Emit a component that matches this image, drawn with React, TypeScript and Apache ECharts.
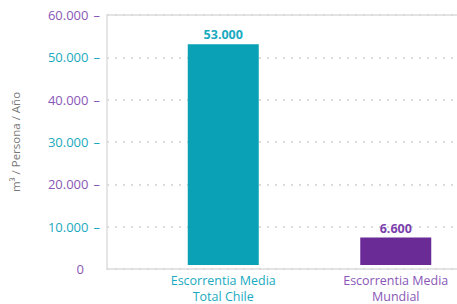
import React, { useEffect, useRef } from "react";
import * as echarts from "echarts";

const categories = ["Escorrentia Media\nTotal Chile", "Escorrentia Media\nMundial"];
const values = [53000, 6600];
const valueLabels = ["53.000", "6.600"];
const tickLabels: Record<number, string> = {
  0: "0",
  10000: "10.000",
  20000: "20.000",
  30000: "30.000",
  40000: "40.000",
  50000: "50.000",
  60000: "60.000",
};
const yTitle = "m³ / Persona / Año";

const TEAL = "#19aabf";
const PURPLE = "#8a57b8";
const TEAL_BAR = "#0aa0b5";
const PURPLE_BAR = "#6a2b97";

export default function App() {
  const ref = useRef<HTMLDivElement>(null);
  useEffect(() => {
    if (!ref.current) return;
    const chart = echarts.init(ref.current, undefined, { renderer: "svg" });
    const font = "'Open Sans', sans-serif";
    chart.setOption({
      animation: false,
      grid: [
        { left: 107, top: 15, right: 43, bottom: 35, containLabel: false },
        { left: 137, top: 15, right: 18, bottom: 35, containLabel: false },
      ],
      xAxis: [
        {
          gridIndex: 0,
          type: "value",
          position: "bottom",
          min: 0,
          max: 1,
          axisLine: { show: true, onZero: false, lineStyle: { color: "#dcdcdc", width: 1.5 } },
          axisTick: { show: false },
          axisLabel: { show: false },
          splitLine: { show: false },
        },
        {
          gridIndex: 0,
          type: "value",
          position: "top",
          min: 0,
          max: 1,
          axisLine: { show: true, onZero: false, lineStyle: { color: "#dcdcdc", width: 1.5 } },
          axisTick: { show: false },
          axisLabel: { show: false },
          splitLine: { show: false },
        },
        {
          gridIndex: 1,
          type: "category",
          data: categories,
          axisLine: { show: false },
          axisTick: { show: false },
          axisLabel: {
            margin: 7,
            fontFamily: font,
            fontSize: 12.5,
            lineHeight: 16,
            color: (_v: string, i: number) => (i === 0 ? TEAL : PURPLE),
          },
        },
      ],
      yAxis: [
        {
          gridIndex: 0,
          type: "value",
          min: 0,
          max: 60000,
          interval: 10000,
          name: yTitle,
          nameLocation: "middle",
          nameGap: 86,
          nameRotate: 90,
          nameTextStyle: { color: "#777", fontFamily: font, fontSize: 11.5 },
          axisLine: { show: true, lineStyle: { color: "#dcdcdc", width: 1.5 } },
          axisTick: { show: false },
          splitLine: { show: true, lineStyle: { color: "#cfcfcf", type: [2, 6], width: 1.5 } },
          axisLabel: {
            margin: 7,
            formatter: (v: number) => {
              const idx = Math.round(v / 10000);
              const key = idx % 2 === 0 ? "p" : "t";
              if (v === 0) return `{z|${tickLabels[0]}}`;
              return `{${key}|${tickLabels[v]}}{${key}d|–}`;
            },
            rich: {
              p: { color: PURPLE, fontFamily: font, fontSize: 13 },
              t: { color: TEAL, fontFamily: font, fontSize: 13 },
              pd: { color: PURPLE, fontFamily: font, fontSize: 13, padding: [0, 0, 0, 5] },
              td: { color: TEAL, fontFamily: font, fontSize: 13, padding: [0, 0, 0, 5] },
              z: { color: PURPLE, fontFamily: font, fontSize: 13, padding: [0, 16, 0, 0] },
            },
          },
        },
        {
          gridIndex: 1,
          type: "value",
          min: 0,
          max: 60000,
          interval: 10000,
          show: false,
          splitLine: { show: false },
        },
      ],
      series: [
        {
          type: "bar",
          xAxisIndex: 2,
          yAxisIndex: 1,
          barWidth: 71,
          data: values.map((v, i) => ({
            value: v,
            itemStyle: { color: i === 0 ? TEAL_BAR : PURPLE_BAR },
            label: {
              show: true,
              position: "top",
              distance: 3,
              formatter: valueLabels[i],
              color: i === 0 ? TEAL : "#7a3fae",
              fontFamily: font,
              fontWeight: "bold",
              fontSize: 12.5,
            },
          })),
        },
      ],
    });
    return () => chart.dispose();
  }, []);
  return (
    <div style={{ width: 457, height: 304, position: "absolute", left: 0, top: 0, overflow: "hidden" }}>
      <div ref={ref} style={{ width: 500, height: 304 }} />
    </div>
  );
}
